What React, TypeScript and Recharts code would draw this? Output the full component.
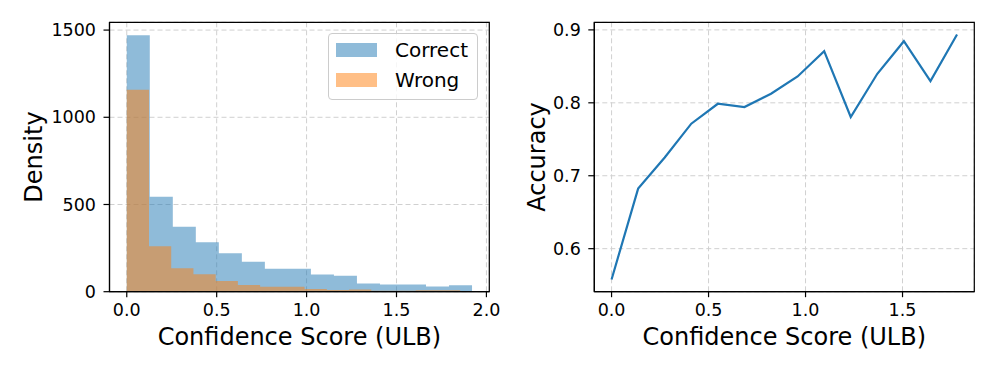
import React from 'react';
import { ComposedChart, Area, LineChart, Line, XAxis, YAxis, CartesianGrid, Legend, ReferenceArea } from 'recharts';

// ---------- Left panel: histogram of confidence scores ----------
const CORRECT_EDGES = [0, 0.128, 0.256, 0.384, 0.512, 0.64, 0.768, 0.896, 1.024, 1.152, 1.28, 1.408, 1.536, 1.664, 1.792, 1.92];
const CORRECT_DENSITY = [1471, 544, 373, 283, 220, 172, 132, 132, 98, 92, 47, 41, 41, 30, 37];
const WRONG_EDGES = [0, 0.1236, 0.2472, 0.3708, 0.4944, 0.618, 0.7416, 0.8652, 0.9888, 1.1124, 1.236, 1.3596, 1.4832, 1.6068, 1.7304, 1.854];
const WRONG_DENSITY = [1158, 260, 134, 100, 62, 38, 29, 28, 16, 10, 13, 6, 5, 9, 9];
const HIST_X_TICKS = [0, 0.5, 1, 1.5, 2];
const HIST_Y_TICKS = [0, 500, 1000, 1500];
const HIST_X_DOMAIN = [-0.096, 2.016];
const HIST_Y_DOMAIN = [0, 1544.6];
const SERIES_NAMES = ['Correct', 'Wrong'];

// ---------- Right panel: accuracy vs confidence ----------
const ACC_X = [0, 0.137, 0.274, 0.411, 0.548, 0.685, 0.822, 0.959, 1.096, 1.233, 1.37, 1.507, 1.644, 1.781];
const ACC_Y = [0.5578, 0.6824, 0.725, 0.7714, 0.7987, 0.7942, 0.8124, 0.8361, 0.8708, 0.7805, 0.8398, 0.8845, 0.8297, 0.8936];
const ACC_X_TICKS = [0, 0.5, 1, 1.5];
const ACC_Y_TICKS = [0.6, 0.7, 0.8, 0.9];
const ACC_X_DOMAIN = [-0.089, 1.87];
const ACC_Y_DOMAIN = [0.541, 0.9104];

const X_LABEL = 'Confidence Score (ULB)';

const BLUE = '#1f77b4';
const ORANGE = '#ff7f0e';
const COLORS: Record<string, string> = { Correct: BLUE, Wrong: ORANGE };

const toStep = (edges: number[], vals: number[]) =>
  edges.map((x, i) => ({ x, y: vals[Math.min(i, vals.length - 1)] }));

const correctData = toStep(CORRECT_EDGES, CORRECT_DENSITY);
const wrongData = toStep(WRONG_EDGES, WRONG_DENSITY);
const accData = ACC_X.map((x, i) => ({ x, acc: ACC_Y[i] }));

const FONT = 'DejaVu Sans, sans-serif';
const tickStyle = { fill: '#000', fontSize: 17.5, fontFamily: FONT };
const axisLine = { stroke: '#000', strokeWidth: 1.2 };
const tickLine = { stroke: '#000', strokeWidth: 1.2 };

const fmt1 = (v: number) => v.toFixed(1);

const YLabel = (text: string, cx: number) => (props: any) => {
  const vb = props.viewBox || {};
  const cy = (vb.y || 0) + (vb.height || 0) / 2;
  return (
    <text
      x={cx}
      y={cy}
      transform={`rotate(-90, ${cx}, ${cy})`}
      textAnchor="middle"
      dominantBaseline="central"
      fontSize={24}
      fontFamily={FONT}
      fill="#000"
    >
      {text}
    </text>
  );
};

const XLabel = (text: string, cy: number) => (props: any) => {
  const vb = props.viewBox || {};
  const cx = (vb.x || 0) + (vb.width || 0) / 2;
  return (
    <text x={cx} y={cy} textAnchor="middle" dominantBaseline="central" fontSize={24} fontFamily={FONT} fill="#000">
      {text}
    </text>
  );
};

const LegendBox = () => (
  <div
    style={{
      position: 'relative',
      width: 150,
      height: 67,
      boxSizing: 'border-box',
      border: '1px solid #cccccc',
      borderRadius: 4,
      background: 'rgba(255,255,255,0.8)',
      fontFamily: FONT,
    }}
  >
    {SERIES_NAMES.map((name, i) => (
      <div key={name}>
        <div
          style={{
            position: 'absolute',
            left: 7,
            top: 9 + i * 30,
            width: 41,
            height: 14,
            background: COLORS[name],
            opacity: 0.5,
          }}
        />
        <div
          style={{
            position: 'absolute',
            left: 66,
            top: 3 + i * 30,
            height: 26,
            lineHeight: '26px',
            fontSize: 20,
            color: '#000',
            whiteSpace: 'nowrap',
          }}
        >
          {name}
        </div>
      </div>
    ))}
  </div>
);

export default function App() {
  return (
    <div style={{ position: 'absolute', left: 0, top: 0, width: 997, height: 374, background: '#fff', fontFamily: FONT }}>
      <div style={{ position: 'absolute', left: 0, top: 0 }}>
        <ComposedChart width={500} height={374} margin={{ top: 22.3, right: 10.7, bottom: 0.3, left: 0 }}>
          <CartesianGrid stroke="#d0d0d0" strokeDasharray="5 3" strokeWidth={1} />
          <XAxis
            type="number"
            dataKey="x"
            domain={HIST_X_DOMAIN}
            allowDataOverflow
            ticks={HIST_X_TICKS}
            tickFormatter={fmt1}
            tick={tickStyle}
            tickSize={5.5}
            tickMargin={6}
            height={82}
            axisLine={axisLine}
            tickLine={tickLine}
            label={XLabel(X_LABEL, 337)}
          />
          <YAxis
            type="number"
            domain={HIST_Y_DOMAIN}
            allowDataOverflow
            ticks={HIST_Y_TICKS}
            tick={tickStyle}
            tickSize={6}
            tickMargin={7.5}
            width={109.5}
            axisLine={axisLine}
            tickLine={tickLine}
            label={YLabel('Density', 34)}
          />
          <Area
            data={correctData}
            dataKey="y"
            name={SERIES_NAMES[0]}
            type="stepAfter"
            stroke="none"
            fill={BLUE}
            fillOpacity={0.5}
            isAnimationActive={false}
            dot={false}
            activeDot={false}
          />
          <Area
            data={wrongData}
            dataKey="y"
            name={SERIES_NAMES[1]}
            type="stepAfter"
            stroke="none"
            fill={ORANGE}
            fillOpacity={0.5}
            isAnimationActive={false}
            dot={false}
            activeDot={false}
          />
          <ReferenceArea
            x1={HIST_X_DOMAIN[0]}
            x2={HIST_X_DOMAIN[1]}
            y1={HIST_Y_DOMAIN[0]}
            y2={HIST_Y_DOMAIN[1]}
            fill="none"
            fillOpacity={0}
            stroke="#000"
            strokeWidth={1.2}
            ifOverflow="visible"
          />
          <Legend
            layout="vertical"
            align="center"
            verticalAlign="middle"
            wrapperStyle={{ left: 328, top: 33, width: 150, height: 67 }}
            content={() => <LegendBox />}
          />
        </ComposedChart>
      </div>
      <div style={{ position: 'absolute', left: 500, top: 0 }}>
        <LineChart width={497} height={374} data={accData} margin={{ top: 22.3, right: 22.7, bottom: 0.3, left: 0 }}>
          <CartesianGrid stroke="#d0d0d0" strokeDasharray="5 3" strokeWidth={1} />
          <XAxis
            type="number"
            dataKey="x"
            domain={ACC_X_DOMAIN}
            allowDataOverflow
            ticks={ACC_X_TICKS}
            tickFormatter={fmt1}
            tick={tickStyle}
            tickSize={5.5}
            tickMargin={6}
            height={82}
            axisLine={axisLine}
            tickLine={tickLine}
            label={XLabel(X_LABEL, 337)}
          />
          <YAxis
            type="number"
            domain={ACC_Y_DOMAIN}
            allowDataOverflow
            ticks={ACC_Y_TICKS}
            tickFormatter={fmt1}
            tick={tickStyle}
            tickSize={6}
            tickMargin={7.5}
            width={94.3}
            axisLine={axisLine}
            tickLine={tickLine}
            label={YLabel('Accuracy', 37)}
          />
          <Line
            dataKey="acc"
            type="linear"
            stroke={BLUE}
            strokeWidth={2.2}
            dot={false}
            activeDot={false}
            isAnimationActive={false}
          />
          <ReferenceArea
            x1={ACC_X_DOMAIN[0]}
            x2={ACC_X_DOMAIN[1]}
            y1={ACC_Y_DOMAIN[0]}
            y2={ACC_Y_DOMAIN[1]}
            fill="none"
            fillOpacity={0}
            stroke="#000"
            strokeWidth={1.2}
            ifOverflow="visible"
          />
        </LineChart>
      </div>
    </div>
  );
}
